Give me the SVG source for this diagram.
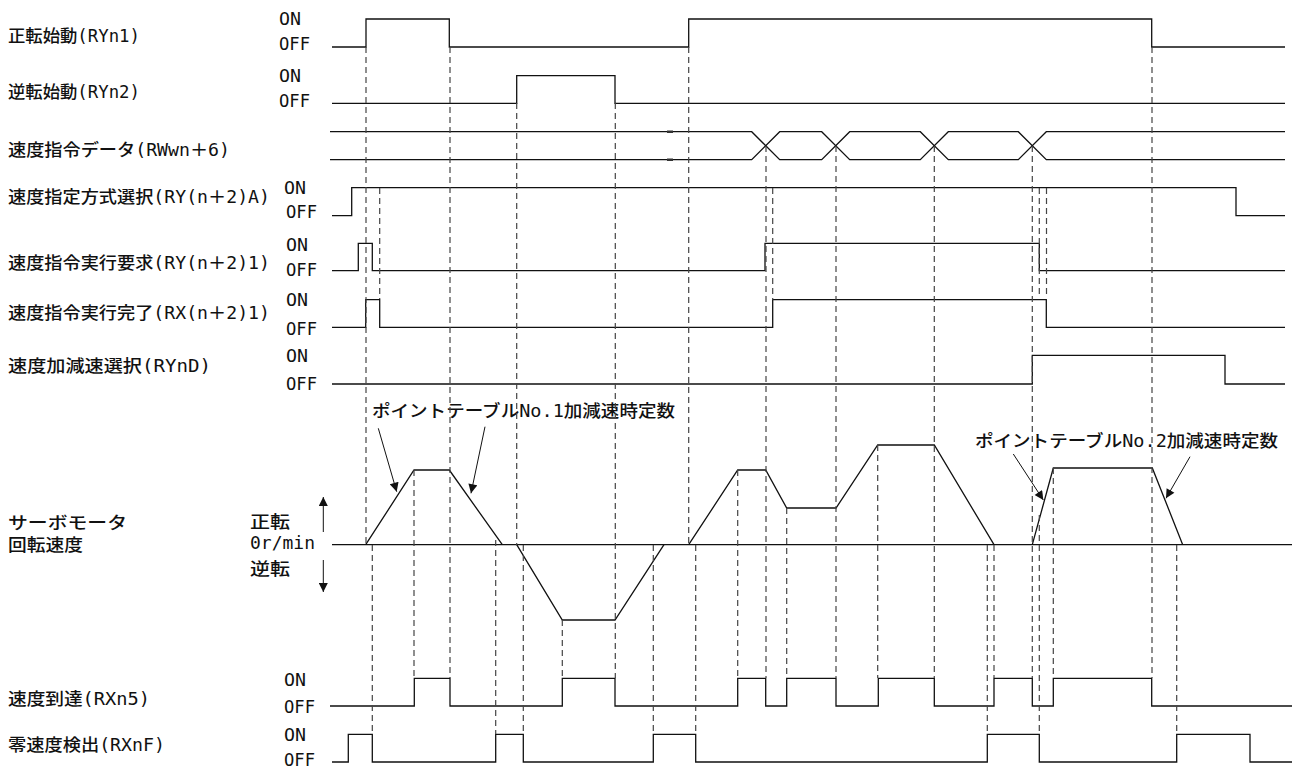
<svg xmlns="http://www.w3.org/2000/svg" width="1296" height="771" viewBox="0 0 1296 771">
<style>
text{font-family:"DejaVu Sans Mono","Noto Sans CJK JP",monospace;font-size:17px;fill:#111}
.lbl{font-family:"DejaVu Sans Mono","Noto Sans CJK JP",sans-serif;font-weight:500}
.sig{fill:none;stroke:#111;stroke-width:1.3}
.dash{fill:none;stroke:#444;stroke-width:1.2;stroke-dasharray:6 4}
.arr{fill:none;stroke:#111;stroke-width:1}
.mk{stroke:#333;stroke-width:2.5}
</style>
<defs>
<marker id="ah" viewBox="0 0 10 10" refX="10" refY="5" markerWidth="11" markerHeight="9" markerUnits="userSpaceOnUse" orient="auto">
<path d="M0,0 L10,5 L0,10 z" fill="#111"/>
</marker>
</defs>
<rect width="1296" height="771" fill="#fff"/>

<g id="row-RYn1">
<text class="lbl" x="8" y="42" textLength="132" lengthAdjust="spacingAndGlyphs">正転始動(RYn1)</text>
<text x="279" y="25" textLength="22" lengthAdjust="spacingAndGlyphs">ON</text><text x="279" y="50" textLength="31" lengthAdjust="spacingAndGlyphs">OFF</text>
<path class="sig" d="M332,47 H366 V19 H449.3 V47 H688.7 V19 H1151.7 V47 H1285"/>
</g>
<g id="row-RYn2">
<text class="lbl" x="8" y="98" textLength="132" lengthAdjust="spacingAndGlyphs">逆転始動(RYn2)</text>
<text x="279" y="82" textLength="22" lengthAdjust="spacingAndGlyphs">ON</text><text x="279" y="107" textLength="31" lengthAdjust="spacingAndGlyphs">OFF</text>
<path class="sig" d="M332,103.3 H516.7 V75.7 H615 V103.3 H1285"/>
</g>
<g id="row-RWwn6">
<text class="lbl" x="8" y="156" textLength="222" lengthAdjust="spacingAndGlyphs">速度指令データ(RWwn＋6)</text>
<path class="sig" d="M330,131.7 H751.7 L779.7,159.7 H821.7 L849.7,131.7 H920.3 L948.3,159.7 H1018.3 L1046.3,131.7 H1285"/>
<path class="sig" d="M330,159.7 H751.7 L779.7,131.7 H821.7 L849.7,159.7 H920.3 L948.3,131.7 H1018.3 L1046.3,159.7 H1285"/>
<path class="mk" d="M667,131.7 H673 M667,159.7 H673"/>
</g>
<g id="row-RYn2A">
<text class="lbl" x="8" y="203" textLength="262" lengthAdjust="spacingAndGlyphs">速度指定方式選択(RY(n＋2)A)</text>
<text x="284" y="194" textLength="22" lengthAdjust="spacingAndGlyphs">ON</text><text x="286" y="218" textLength="31" lengthAdjust="spacingAndGlyphs">OFF</text>
<path class="sig" d="M332,215.7 H351.7 V187.7 H1236 V215.7 H1285"/>
</g>
<g id="row-RYn21">
<text class="lbl" x="8" y="269" textLength="262" lengthAdjust="spacingAndGlyphs">速度指令実行要求(RY(n＋2)1)</text>
<text x="286" y="251" textLength="22" lengthAdjust="spacingAndGlyphs">ON</text><text x="286" y="276" textLength="31" lengthAdjust="spacingAndGlyphs">OFF</text>
<path class="sig" d="M332,270.7 H358.3 V243.3 H372.3 V270.7 H765 V243.3 H1039.3 V270.7 H1285"/>
</g>
<g id="row-RXn21">
<text class="lbl" x="8" y="319" textLength="262" lengthAdjust="spacingAndGlyphs">速度指令実行完了(RX(n＋2)1)</text>
<text x="286" y="306" textLength="22" lengthAdjust="spacingAndGlyphs">ON</text><text x="286" y="335" textLength="31" lengthAdjust="spacingAndGlyphs">OFF</text>
<path class="sig" d="M332,327.3 H365.7 V299.7 H379.7 V327.3 H772.7 V299.7 H1046.3 V327.3 H1285"/>
</g>
<g id="row-RYnD">
<text class="lbl" x="8" y="372" textLength="203" lengthAdjust="spacingAndGlyphs">速度加減速選択(RYnD)</text>
<text x="286" y="362" textLength="22" lengthAdjust="spacingAndGlyphs">ON</text><text x="286" y="390" textLength="31" lengthAdjust="spacingAndGlyphs">OFF</text>
<path class="sig" d="M332,384 H1032.3 V355.3 H1225 V384 H1285"/>
</g>
<g id="row-speed">
<text class="lbl" x="8" y="529" textLength="119" lengthAdjust="spacingAndGlyphs">サーボモータ</text>
<text class="lbl" x="8" y="551" textLength="75" lengthAdjust="spacingAndGlyphs">回転速度</text>
<text class="lbl" x="250" y="528" textLength="40" lengthAdjust="spacingAndGlyphs">正転</text>
<text x="250" y="549" textLength="65" lengthAdjust="spacingAndGlyphs">0r/min</text>
<text class="lbl" x="250" y="575" textLength="40" lengthAdjust="spacingAndGlyphs">逆転</text>
<line class="arr" x1="323.3" y1="532" x2="323.3" y2="497" marker-end="url(#ah)"/>
<line class="arr" x1="323.3" y1="560" x2="323.3" y2="592" marker-end="url(#ah)"/>
<path class="sig" d="M332,544.7 H1292"/>
<path class="sig" d="M365.7,544.7 L414,470 H449.3 L502.3,544.7 M516.7,544.7 L562.3,620 H615 L664,544.7 M688.7,544.7 L737.7,470 H765.7 L786.7,508 H836 L877.7,445 H934.3 L994,544.7 M1032.3,544.7 L1053.3,468 H1152.3 L1182.7,544.7"/>
</g>
<g id="row-RXn5">
<text class="lbl" x="8" y="705" textLength="142" lengthAdjust="spacingAndGlyphs">速度到達(RXn5)</text>
<text x="284" y="686" textLength="22" lengthAdjust="spacingAndGlyphs">ON</text><text x="284" y="713" textLength="31" lengthAdjust="spacingAndGlyphs">OFF</text>
<path class="sig" d="M330,706 H414.3 V678.3 H450 V706 H562.3 V678.3 H615 V706 H737.7 V678.3 H765.7 V706 H786.7 V678.3 H836 V706 H878.3 V678.3 H934.3 V706 H994 V678.3 H1032.3 V706 H1053.3 V678.3 H1151.7 V706 H1292"/>
</g>
<g id="row-RXnF">
<text class="lbl" x="8" y="751" textLength="157" lengthAdjust="spacingAndGlyphs">零速度検出(RXnF)</text>
<text x="284" y="741" textLength="22" lengthAdjust="spacingAndGlyphs">ON</text><text x="284" y="766" textLength="31" lengthAdjust="spacingAndGlyphs">OFF</text>
<path class="sig" d="M332,762 H348.3 V734.3 H372.3 V762 H495.7 V734.3 H523.3 V762 H653.3 V734.3 H695.7 V762 H987.3 V734.3 H1039.3 V762 H1176.7 V734.3 H1250 V762 H1292"/>
</g>
<g id="note-1">
<text class="lbl" x="372" y="417" textLength="303" lengthAdjust="spacingAndGlyphs">ポイントテーブルNo.1加減速時定数</text>
</g>
<g id="note-2">
<text class="lbl" x="975" y="447" textLength="303" lengthAdjust="spacingAndGlyphs">ポイントテーブルNo.2加減速時定数</text>
</g>

<g id="connectors">
<path class="dash" d="M366,47 V545 M379.7,188 V299 M372.3,545 V734 M414,470 V678 M450,47 V678 M495.7,540 V734 M523.3,545 V734 M516.7,103 V545 M562.3,620 V678 M615.3,103 V678 M653.3,545 V734 M695.7,545 V734 M688.7,47 V545 M737.7,470 V678 M766,146 V678 M772.7,188 V300 M786.7,508 V678 M836,146 V678 M877.7,445 V678 M934.3,146 V678 M987.3,545 V734 M994,545 V678 M1032.3,146 V678 M1039.3,188 V298 M1039.3,515 V734 M1046.5,188 V298 M1053.3,468 V678 M1152,47 V678 M1176.7,545 V734"/>
<line class="arr" x1="378.3" y1="428.3" x2="396.7" y2="491.7" marker-end="url(#ah)"/>
<line class="arr" x1="485" y1="426.7" x2="471" y2="493.3" marker-end="url(#ah)"/>
<line class="arr" x1="1013.3" y1="454" x2="1043.3" y2="500" marker-end="url(#ah)"/>
<line class="arr" x1="1190" y1="456.7" x2="1166" y2="498.3" marker-end="url(#ah)"/>
</g>
</svg>
